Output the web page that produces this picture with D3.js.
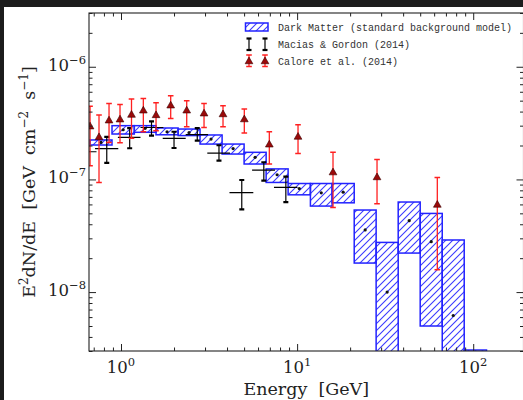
<!DOCTYPE html>
<html>
<head>
<meta charset="utf-8">
<script src="https://cdnjs.cloudflare.com/ajax/libs/d3/7.8.5/d3.min.js"></script>
<style>
body{margin:0;background:#fff;}
svg{display:block;}
</style>
</head>
<body>
<script>
// dark matter band: bin edges [GeV], lower / upper flux and central value
var dmEdges = [0.667, 0.889, 1.19, 1.58, 2.11, 2.81, 3.75, 5.0, 6.67, 8.89, 11.9, 15.8, 21.1, 28.1, 37.5, 50.0, 66.7, 88.9, 119];
var dmLow  = [2.02e-7, 2.53e-7, 2.62e-7, 2.49e-7, 2.45e-7, 2.06e-7, 1.68e-7, 1.37e-7, 9.4e-8, 7.3e-8, 5.8e-8, 6.2e-8, 1.81e-8, 1e-9, 2.22e-8, 5.0e-9, 1e-9, 1e-10];
var dmHigh = [2.24e-7, 3.0e-7, 3.0e-7, 2.86e-7, 2.8e-7, 2.48e-7, 2.06e-7, 1.74e-7, 1.24e-7, 9.2e-8, 9.2e-8, 9.2e-8, 5.35e-8, 2.76e-8, 6.3e-8, 4.99e-8, 2.9e-8, 3.06e-9];
var dmMid  = [2.13e-7, 2.76e-7, 2.84e-7, 2.65e-7, 2.61e-7, 2.28e-7, 1.88e-7, 1.57e-7, 1.10e-7, 8.3e-8, 7.6e-8, 7.7e-8, 3.56e-8, 1.0e-8, 4.3e-8, 2.8e-8, 6.2e-9, 1e-9];

// Macias & Gordon (2014)
var mgE    = [0.623, 0.83, 1.12, 1.49, 2.0, 2.71, 3.60, 4.85, 6.47, 8.63];
var mgELo  = [0.534, 0.712, 0.96, 1.29, 1.725, 2.33, 3.09, 4.13, 5.55, 7.39];
var mgEHi  = [0.726, 0.965, 1.29, 1.74, 2.33, 3.12, 4.16, 5.64, 7.49, 10.05];
var mgFlux = [1.76e-7, 1.88e-7, 2.36e-7, 2.89e-7, 2.31e-7, 2.50e-7, 1.71e-7, 7.62e-8, 1.21e-7, 8.49e-8];
var mgLo   = [1.5e-7, 1.40e-7, 1.89e-7, 2.45e-7, 1.90e-7, 2.21e-7, 1.47e-7, 5.42e-8, 9.74e-8, 6.28e-8];
var mgHi   = [2.05e-7, 2.39e-7, 2.85e-7, 3.27e-7, 2.65e-7, 2.85e-7, 2.01e-7, 9.88e-8, 1.42e-7, 1.06e-7];

// Calore et al. (2014)
var calE    = [0.667, 0.750, 0.855, 0.987, 1.147, 1.339, 1.581, 1.915, 2.361, 2.961, 3.795, 5.014, 6.953, 10.12, 15.99, 28.43, 62.54];
var calFlux = [2.94e-7, 2.36e-7, 3.32e-7, 3.39e-7, 3.73e-7, 4.07e-7, 3.70e-7, 4.51e-7, 4.07e-7, 3.83e-7, 3.77e-7, 3.40e-7, 2.03e-7, 2.38e-7, 1.15e-7, 1.04e-7, 5.93e-8];
var calLo   = [1.32e-7, 9.4e-8, 2.13e-7, 2.12e-7, 2.32e-7, 2.65e-7, 2.70e-7, 3.48e-7, 2.94e-7, 2.89e-7, 2.94e-7, 2.58e-7, 1.37e-7, 1.70e-7, 5.64e-8, 6.09e-8, 1.58e-8];
var calHi   = [4.46e-7, 3.73e-7, 4.72e-7, 4.63e-7, 5.17e-7, 5.23e-7, 4.79e-7, 5.53e-7, 4.99e-7, 4.72e-7, 4.51e-7, 4.21e-7, 2.65e-7, 3.06e-7, 1.74e-7, 1.50e-7, 1.04e-7];

var xMajor = [1, 10, 100];
var yMajor = [1e-8, 1e-7, 1e-6];
var legendLabels = ['Dark Matter (standard background model)', 'Macias & Gordon (2014)', 'Calore et al. (2014)'];

(function(){
var W = 523, H = 400;
var pl = 89, pt = 13, pr = 523.5, pb = 351;
var blue = '#2222ff', red = '#ff2020', darkRed = '#9a0a0a';
var serif = '"DejaVu Serif", serif';

var svg = d3.select('body').append('svg').attr('width', W).attr('height', H);
svg.append('rect').attr('width', W).attr('height', H).attr('fill', '#fff');

var defs = svg.append('defs');
var hatch = defs.append('pattern').attr('id', 'hatch')
    .attr('patternUnits', 'userSpaceOnUse').attr('width', 7).attr('height', 7);
hatch.append('path').attr('d', 'M-1,1 l2,-2 M0,7 l7,-7 M6,8 l2,-2')
    .attr('stroke', '#3a3aff').attr('stroke-width', 1.1);
defs.append('clipPath').attr('id', 'plotclip').append('rect')
    .attr('x', pl).attr('y', pt).attr('width', pr - pl).attr('height', pb - pt);

var x = d3.scaleLog().domain([0.658, 193]).range([pl, pr]);
var y = d3.scaleLog().domain([3e-9, 3e-6]).range([pb, pt]);

var plot = svg.append('g').attr('clip-path', 'url(#plotclip)');

// hatched DM boxes
var bins = dmLow.map(function(d, i){ return {x0: dmEdges[i], x1: dmEdges[i+1], lo: d, hi: dmHigh[i], mid: dmMid[i]}; });
plot.selectAll('rect.dm').data(bins).enter().append('rect')
    .attr('class', 'dm')
    .attr('x', function(d){ return x(d.x0); })
    .attr('width', function(d){ return x(d.x1) - x(d.x0); })
    .attr('y', function(d){ return y(d.hi); })
    .attr('height', function(d){ return y(d.lo) - y(d.hi); })
    .attr('fill', 'url(#hatch)')
    .attr('stroke', blue).attr('stroke-width', 1.5);
plot.selectAll('circle.mid').data(bins).enter().append('circle')
    .attr('cx', function(d){ return (x(d.x0) + x(d.x1)) / 2; })
    .attr('cy', function(d){ return y(d.mid); })
    .attr('r', 1.6).attr('fill', '#111');

// Macias & Gordon error bars
var mg = mgE.map(function(e, i){ return {e: e, elo: mgELo[i], ehi: mgEHi[i], f: mgFlux[i], lo: mgLo[i], hi: mgHi[i]}; });
var mgG = plot.selectAll('g.mg').data(mg).enter().append('g').attr('stroke', '#000');
mgG.append('line').attr('stroke-width', 1.2)
    .attr('x1', function(d){ return x(d.elo); }).attr('x2', function(d){ return x(d.ehi); })
    .attr('y1', function(d){ return y(d.f); }).attr('y2', function(d){ return y(d.f); });
mgG.append('line').attr('stroke-width', 1.2)
    .attr('x1', function(d){ return x(d.e); }).attr('x2', function(d){ return x(d.e); })
    .attr('y1', function(d){ return y(d.lo); }).attr('y2', function(d){ return y(d.hi); });
['lo', 'hi'].forEach(function(k){
    mgG.append('line').attr('stroke-width', 2.2)
        .attr('x1', function(d){ return x(d.e) - 2.5; }).attr('x2', function(d){ return x(d.e) + 2.5; })
        .attr('y1', function(d){ return y(d[k]); }).attr('y2', function(d){ return y(d[k]); });
});

// Calore et al. error bars + triangles
var cal = calE.map(function(e, i){ return {e: e, f: calFlux[i], lo: calLo[i], hi: calHi[i]}; });
var calG = plot.selectAll('g.cal').data(cal).enter().append('g');
calG.append('line').attr('stroke', red).attr('stroke-width', 1.3)
    .attr('x1', function(d){ return x(d.e); }).attr('x2', function(d){ return x(d.e); })
    .attr('y1', function(d){ return y(d.lo); }).attr('y2', function(d){ return y(d.hi); });
['lo', 'hi'].forEach(function(k){
    calG.append('line').attr('stroke', red).attr('stroke-width', 1.5)
        .attr('x1', function(d){ return x(d.e) - 2.8; }).attr('x2', function(d){ return x(d.e) + 2.8; })
        .attr('y1', function(d){ return y(d[k]); }).attr('y2', function(d){ return y(d[k]); });
});
var tri = d3.symbol().type(d3.symbolTriangle).size(26);
calG.append('path').attr('d', tri)
    .attr('transform', function(d){ return 'translate(' + x(d.e) + ',' + y(d.f) + ')'; })
    .attr('fill', darkRed).attr('stroke', '#3a0000').attr('stroke-width', 0.6);

// axes: inward ticks on all four sides
var xMinor = x.ticks().filter(function(t){ return xMajor.indexOf(t) < 0; });
var yMinor = y.ticks().filter(function(t){ return !yMajor.some(function(m){ return Math.abs(m - t) / t < 1e-6; }); });
function addAxis(gen, scale, vals, size, tx, ty){
    var g = svg.append('g').attr('transform', 'translate(' + tx + ',' + ty + ')')
        .call(gen(scale).tickValues(vals).tickSize(size).tickSizeOuter(0).tickFormat(''));
    g.select('.domain').remove();
    g.selectAll('line').attr('stroke', '#222').attr('stroke-width', 1);
}
addAxis(d3.axisBottom, x, xMajor, -7, 0, pb);
addAxis(d3.axisBottom, x, xMinor, -3.5, 0, pb);
addAxis(d3.axisTop, x, xMajor, -7, 0, pt);
addAxis(d3.axisTop, x, xMinor, -3.5, 0, pt);
addAxis(d3.axisLeft, y, yMajor, -7, pl, 0);
addAxis(d3.axisLeft, y, yMinor, -3.5, pl, 0);
addAxis(d3.axisRight, y, yMajor, -7, pr, 0);
addAxis(d3.axisRight, y, yMinor, -3.5, pr, 0);

svg.append('rect').attr('x', pl).attr('y', pt)
    .attr('width', pr - pl).attr('height', pb - pt)
    .attr('fill', 'none').attr('stroke', '#222').attr('stroke-width', 1.1);

// tick labels with superscripts
function expo(v){ var p = Math.round(Math.log10(v)); return (p < 0 ? '\u2212' : '') + Math.abs(p); }
xMajor.forEach(function(v){
    var t = svg.append('text').attr('x', x(v)).attr('y', pb + 22)
        .attr('text-anchor', 'middle').attr('font-family', serif).attr('font-size', 16.5).attr('fill', '#222');
    t.append('tspan').text('10');
    t.append('tspan').attr('dy', -7).attr('font-size', 11.5).text(expo(v));
});
yMajor.forEach(function(v){
    var t = svg.append('text').attr('x', pl - 3).attr('y', y(v) + 4)
        .attr('text-anchor', 'end').attr('font-family', serif).attr('font-size', 16.5).attr('fill', '#222');
    t.append('tspan').text('10');
    t.append('tspan').attr('dy', -7).attr('font-size', 11.5).text(expo(v));
});

// axis titles
svg.append('text').attr('x', (pl + pr) / 2).attr('y', 395)
    .attr('text-anchor', 'middle').attr('font-family', serif).attr('font-size', 17.5)
    .attr('fill', '#222').attr('xml:space', 'preserve').text('Energy  [GeV]');
var yl = svg.append('text').attr('transform', 'translate(35,' + ((pt + pb) / 2) + ') rotate(-90)')
    .attr('text-anchor', 'middle').attr('font-family', serif).attr('font-size', 17.5)
    .attr('fill', '#222').attr('xml:space', 'preserve');
[['E', 0], ['2', 1], ['dN/dE  [GeV  cm', 0], ['\u22122', 1], ['  s', 0], ['\u22121', 1], [']', 0]].forEach(function(p, i, arr){
    var prevSup = i > 0 && arr[i-1][1];
    var ts = yl.append('tspan').text(p[0]);
    if (p[1]) ts.attr('dy', -7).attr('font-size', 12);
    else if (prevSup) ts.attr('dy', 7);
});

// legend
var legX = 278, legY = [30.5, 47.5, 64.5];
var leg = svg.append('g');
leg.append('rect').attr('x', 245.5).attr('y', 23).attr('width', 22.5).attr('height', 8)
    .attr('fill', 'url(#hatch)').attr('stroke', blue).attr('stroke-width', 1.5);
[249, 265].forEach(function(cx){
    leg.append('line').attr('x1', cx).attr('x2', cx).attr('y1', 38.5).attr('y2', 50).attr('stroke', '#000').attr('stroke-width', 1.2);
    [38.5, 50].forEach(function(cy){
        leg.append('line').attr('x1', cx - 2.5).attr('x2', cx + 2.5).attr('y1', cy).attr('y2', cy).attr('stroke', '#000').attr('stroke-width', 2.2);
    });
    leg.append('line').attr('x1', cx).attr('x2', cx).attr('y1', 55).attr('y2', 66.5).attr('stroke', red).attr('stroke-width', 1.3);
    [55, 66.5].forEach(function(cy){
        leg.append('line').attr('x1', cx - 2.8).attr('x2', cx + 2.8).attr('y1', cy).attr('y2', cy).attr('stroke', red).attr('stroke-width', 1.5);
    });
    leg.append('path').attr('d', tri).attr('transform', 'translate(' + cx + ',61.5)')
        .attr('fill', darkRed).attr('stroke', '#3a0000').attr('stroke-width', 0.6);
});
legendLabels.forEach(function(s, i){
    leg.append('text').attr('x', legX).attr('y', legY[i])
        .attr('font-family', '"Liberation Mono", monospace').attr('font-size', 10)
        .attr('fill', '#333').attr('xml:space', 'preserve').text(s);
});

// dark frame strips around the screenshot
svg.append('rect').attr('x', 0).attr('y', 0).attr('width', W).attr('height', 7).attr('fill', '#1c1c1c');
svg.append('rect').attr('x', 0).attr('y', 0).attr('width', 4).attr('height', H).attr('fill', '#1c1c1c');
})();
</script>
</body>
</html>
